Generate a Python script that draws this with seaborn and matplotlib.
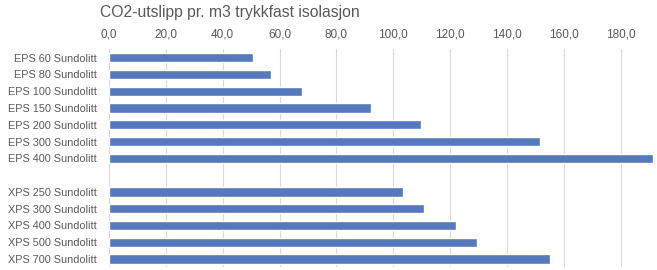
import pandas as pd
import numpy as np
import matplotlib
matplotlib.use("Agg")
import matplotlib.pyplot as plt
import seaborn as sns
from matplotlib.ticker import FuncFormatter

sns.set_theme(style="white")
plt.rcParams["font.family"] = ["Liberation Sans", "DejaVu Sans"]

# data
eps_labels = ["EPS 60 Sundolitt", "EPS 80 Sundolitt", "EPS 100 Sundolitt", "EPS 150 Sundolitt",
              "EPS 200 Sundolitt", "EPS 300 Sundolitt", "EPS 400 Sundolitt"]
eps_values = [50.5, 57.1, 68.0, 92.1, 109.8, 151.5, 191.2]
xps_labels = ["XPS 250 Sundolitt", "XPS 300 Sundolitt", "XPS 400 Sundolitt",
              "XPS 500 Sundolitt", "XPS 700 Sundolitt"]
xps_values = [103.3, 110.8, 121.9, 129.4, 155.1]

df = pd.DataFrame({"Produkt": eps_labels + xps_labels,
                   "CO2": eps_values + xps_values})
order = eps_labels + [" "] + xps_labels

fig = plt.figure(figsize=(6.57, 2.70), dpi=100)
ax = fig.add_axes([109 / 657, 1 - 267.4 / 270, 546 / 657, 218.1 / 270])

sns.barplot(data=df, y="Produkt", x="CO2", order=order, orient="h",
            color="#5579BC", saturation=1, width=0.56, ax=ax)

ax.set_xlim(0, 192)
ax.set_xticks(np.arange(0, 181, 20))
ax.xaxis.set_major_formatter(FuncFormatter(lambda v, p: f"{v:.1f}".replace(".", ",")))
ax.xaxis.tick_top()
ax.grid(axis="x", color="#d9d9d9", linewidth=0.8)
ax.set_axisbelow(True)
for s in ax.spines.values():
    s.set_visible(False)
ax.tick_params(axis="both", length=0, colors="#595959")
ax.tick_params(axis="x", pad=6, labelsize=8.5)
ax.tick_params(axis="y", pad=9, labelsize=7.8)
ax.set_xlabel("")
ax.set_ylabel("")

fig.text(100 / 657, 1 - 12 / 270, "CO2-utslipp pr. m3 trykkfast isolasjon",
         fontsize=11.3, color="#595959", va="center", ha="left")

plt.savefig("out.png", dpi=100)
